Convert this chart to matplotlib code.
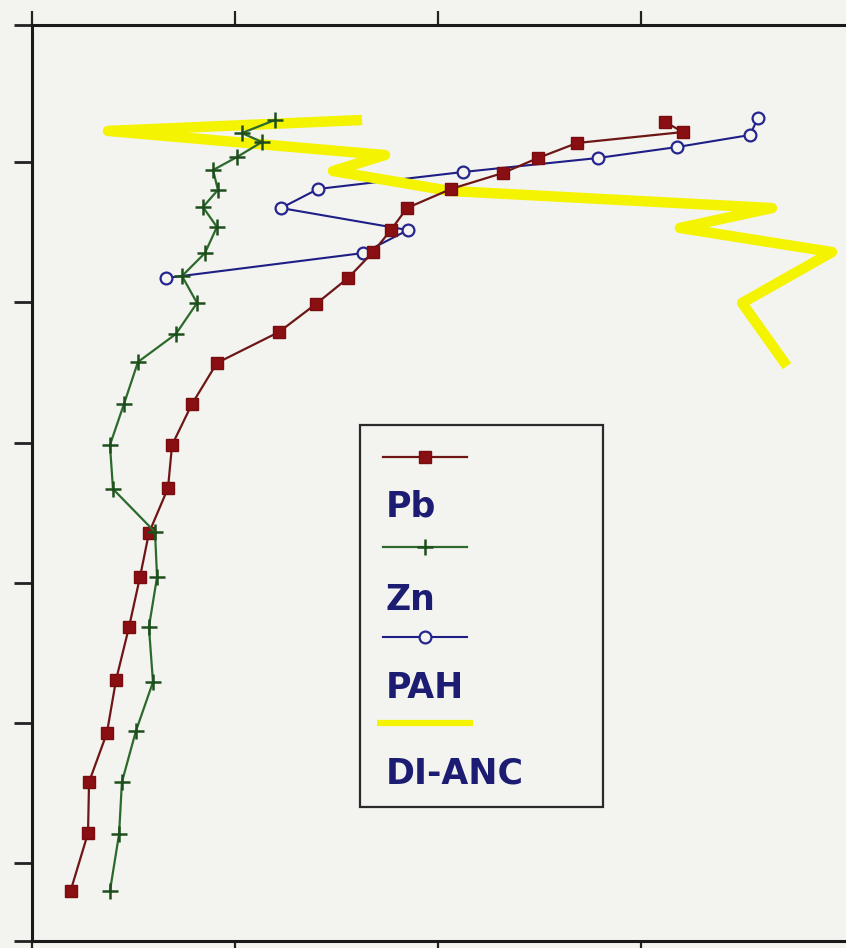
import matplotlib
matplotlib.use("Agg")
import matplotlib.pyplot as plt
from matplotlib.patches import Rectangle

# values (x: concentration units, y: depth, increasing downward)
pb_x = [0.19, 0.276, 0.281, 0.369, 0.414, 0.478, 0.532, 0.576, 0.670, 0.690, 0.788, 0.911,
        1.217, 1.399, 1.557, 1.680, 1.768, 1.847, 2.064, 2.320, 2.493, 2.685, 3.207, 3.118]
pb_y = [6.198, 5.785, 5.421, 5.071, 4.693, 4.315, 3.959, 3.645, 3.324, 3.017, 2.725, 2.432,
        2.211, 2.011, 1.826, 1.641, 1.484, 1.327, 1.191, 1.077, 0.970, 0.863, 0.785, 0.713]

zn_x = [1.197, 1.034, 1.133, 1.010, 0.892, 0.916, 0.842, 0.911, 0.852, 0.739, 0.813, 0.709,
        0.522, 0.453, 0.384, 0.399, 0.606, 0.616, 0.576, 0.596, 0.512, 0.443, 0.429, 0.384]
zn_y = [0.699, 0.792, 0.856, 0.963, 1.056, 1.198, 1.320, 1.462, 1.648, 1.812, 2.004, 2.225,
        2.425, 2.725, 3.017, 3.331, 3.638, 3.959, 4.315, 4.708, 5.057, 5.421, 5.792, 6.198]

pah_x = [3.576, 3.537, 3.177, 2.788, 2.123, 1.409, 1.227, 1.852, 1.631, 0.660]
pah_y = [0.685, 0.806, 0.892, 0.970, 1.070, 1.191, 1.327, 1.484, 1.648, 1.826]

dianc_x = [1.626, 0.374, 1.739, 1.483, 2.059, 3.645, 3.192, 3.941, 3.498, 3.719]
dianc_y = [0.699, 0.777, 0.949, 1.063, 1.205, 1.327, 1.469, 1.641, 2.004, 2.454]

labels = ["Pb", "Zn", "PAH", "DI-ANC"]

bg = "#f3f3ef"
styles = [
    dict(color="#6e1616", lw=1.6, marker="s", ms=9, mfc="#8a0f12", mec="#7a0c10"),
    dict(color="#2c6a2c", lw=1.6, marker="+", ms=11, mew=1.8, mec="#1d4f1d"),
    dict(color="#1e1e86", lw=1.5, marker="o", ms=8.5, mew=1.6, mfc=bg, mec="#25258f"),
    dict(color="#f4f400", lw=7.5, marker=None, solid_capstyle="butt"),
]

fig = plt.figure(figsize=(8.46, 9.48), dpi=100, facecolor=bg)
ax = fig.add_axes([32 / 846, 7 / 948, 1 - 32 / 846, 916 / 948])
ax.set_facecolor(bg)

ax.plot(pah_x, pah_y, zorder=2, **styles[2])
ax.plot(dianc_x, dianc_y, zorder=3, **styles[3])
ax.plot(pb_x, pb_y, zorder=4, **styles[0])
ax.plot(zn_x, zn_y, zorder=5, **styles[1])

y_top, y_bot = 0.0214, 6.555
ax.set_xlim(0, 4.01)
ax.set_ylim(y_bot, y_top)
ax.set_xticks([0, 1, 2, 3])
ax.set_yticks([y_top, 1, 2, 3, 4, 5, 6, y_bot])
ax.tick_params(axis="x", top=True, bottom=True, direction="out", length=10,
               width=1.6, labelbottom=False, labeltop=False, color="#222222")
ax.tick_params(axis="y", left=True, right=False, direction="out", length=13,
               width=2.0, labelleft=False, color="#222222")
ax.spines["right"].set_visible(False)
for s in ["left", "top", "bottom"]:
    ax.spines[s].set_linewidth(2.2)
    ax.spines[s].set_color("#1a1a1a")

# legend box: handle on one row, label on the row below
ax.add_patch(Rectangle((0.403, 0.1463), 0.2985, 0.417, transform=ax.transAxes,
                       facecolor=bg, edgecolor="#2a2a2a", lw=1.6, zorder=6))
handle_y = [0.528, 0.430, 0.332, 0.238]
text_y = [0.474, 0.372, 0.276, 0.183]
for i in range(4):
    st = dict(styles[i])
    if i == 3:
        st["lw"] = 4.5
        x0, x1 = 0.424, 0.542
    else:
        x0, x1 = 0.431, 0.534
    ax.plot([x0, x1], [handle_y[i], handle_y[i]], transform=ax.transAxes,
            zorder=7, markevery=[], **st)
    if st.get("marker"):
        ax.plot([(x0 + x1) / 2], [handle_y[i]], transform=ax.transAxes, zorder=8,
                **{k: v for k, v in st.items() if k not in ("lw", "solid_capstyle")},
                linestyle="none")
    ax.text(0.434, text_y[i], labels[i], transform=ax.transAxes, zorder=8,
            fontsize=25, fontweight="bold", family="DejaVu Sans", color="#1c1c72",
            va="center", ha="left")

fig.savefig("out.png", dpi=100, facecolor=bg)
